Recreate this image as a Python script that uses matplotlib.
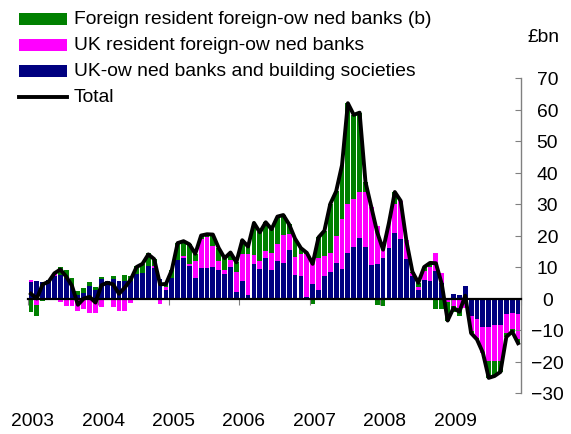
import numpy as np
import matplotlib
matplotlib.use("Agg")
import matplotlib.pyplot as plt
from matplotlib.patches import Rectangle
from matplotlib.lines import Line2D

plt.rcParams['font.family'] = ['Liberation Sans', 'DejaVu Sans']

# ---- data (monthly, Jan 2003 - Dec 2009), £bn ----
years = ['2003', '2004', '2005', '2006', '2007', '2008', '2009']

uk_owned = [5.3, 5.5, 5.3, 5.8, 7.0, 7.5, 6.5, 4.0, 1.0, 1.8, 4.0, 2.8,
            6.3, 5.5, 6.2, 5.4, 5.6, 5.6, 7.7, 8.0, 10.3, 9.8, 6.2, 2.7,
            6.5, 12.2, 13.0, 10.4, 6.4, 9.7, 9.7, 9.9, 9.0, 7.7, 10.1, 2.2,
            5.6, 1.2, 11.1, 9.3, 12.7, 9.0, 11.8, 11.3, 15.3, 7.4, 7.2, 0.5,
            4.6, 2.8, 7.0, 8.3, 11.3, 9.3, 14.4, 16.2, 19.2, 16.2, 10.7, 11.0,
            13.0, 16.0, 20.8, 19.0, 12.5, 7.0, 2.8, 5.8, 5.6, 8.8, 5.0, -0.5,
            1.4, 1.2, 4.0, -5.5, -6.6, -9.2, -9.2, -8.4, -8.4, -5.0, -4.5, -5.0]

uk_res_foreign = [0.5, -2.0, 0.0, -0.5, 0.8, -1.0, -2.3, -2.5, -4.1, -3.3, -4.7, -4.7,
                  -2.8, -0.5, -2.8, -4.1, -4.1, -1.3, 0.0, 0.0, -0.5, 0.4, -1.8, 0.8,
                  0.0, 0.0, 0.4, 0.5, 5.6, 9.3, 9.7, 6.9, 3.0, 1.3, 2.0, 6.1,
                  8.5, 13.0, 2.8, 2.7, 2.5, 5.3, 5.5, 8.9, 5.3, 5.7, 6.9, 13.5,
                  8.2, 10.0, 6.6, 6.3, 8.7, 16.0, 15.6, 15.4, 14.6, 17.6, 18.3, 12.0,
                  4.8, 8.0, 9.2, 12.0, 6.0, 1.0, 1.0, 3.0, 4.5, 5.8, 3.0, -0.5,
                  -2.5, -3.0, -3.1, -4.8, -6.0, -8.0, -10.7, -11.5, -11.4, -5.8, -5.2, -8.0]

foreign_res = [-4.3, -3.5, -0.8, 0.0, 0.0, 2.5, 2.5, 2.4, 1.3, 1.5, 1.1, 0.8,
               0.6, 0.0, 1.0, 0.0, 2.0, 1.7, 2.5, 3.0, 4.2, 2.3, 0.0, 1.0,
               2.5, 5.4, 4.8, 6.3, 2.2, 1.0, 1.0, 3.5, 4.0, 3.8, 2.5, 3.2,
               4.4, 2.3, 10.1, 9.0, 9.0, 7.7, 8.7, 6.3, 2.9, 5.9, 1.9, 0.5,
               -1.8, 6.6, 7.9, 15.4, 14.0, 17.0, 32.0, 26.7, 25.2, 3.2, 0.0, -2.0,
               -2.3, 0.0, 3.8, 0.0, -0.5, 0.5, 1.2, 1.2, 1.2, -3.4, -3.4, -6.0,
               -1.9, -2.4, 0.0, -0.7, -0.4, 0.0, -5.3, -4.7, -3.5, -1.4, -0.8, -1.2]

total = [1.5, 0.0, 4.5, 5.3, 8.0, 9.2, 7.0, 4.0, -2.0, 0.0, 0.5, -1.3,
         4.2, 5.0, 4.5, 1.5, 3.5, 6.0, 10.0, 11.0, 14.0, 12.5, 4.5, 4.6,
         9.0, 17.6, 18.2, 17.2, 14.2, 20.0, 20.4, 20.3, 16.0, 12.8, 14.6, 11.5,
         18.5, 16.5, 24.0, 21.0, 24.2, 22.0, 26.0, 26.5, 23.5, 19.0, 16.0, 14.5,
         11.0, 19.4, 21.5, 30.0, 34.0, 42.3, 62.0, 58.3, 59.0, 37.0, 29.0, 21.0,
         15.5, 24.0, 33.8, 31.0, 18.0, 8.5, 5.0, 10.0, 11.3, 11.2, 4.6, -7.0,
         -3.0, -4.2, 0.9, -11.0, -13.0, -17.2, -25.2, -24.6, -23.3, -12.2, -10.5, -14.2]

labels = ['Foreign resident foreign-ow ned banks (b)',
          'UK resident foreign-ow ned banks',
          'UK-ow ned banks and building societies',
          'Total']
colors = ['#008000', '#FF00FF', '#000080']

FS = 13.9

# ---- figure ----
W, H = 571, 435
fig = plt.figure(figsize=(W / 100, H / 100), dpi=100)
ax = fig.add_axes([28 / W, 41 / H, 493 / W, 315 / H])

x = np.arange(len(total))
series = [np.array(uk_owned), np.array(uk_res_foreign), np.array(foreign_res)]
series_colors = [colors[2], colors[1], colors[0]]
pos_base = np.zeros(len(x))
neg_base = np.zeros(len(x))
for vals, c in zip(series, series_colors):
    bottoms = np.where(vals >= 0, pos_base, neg_base)
    ax.bar(x, vals, bottom=bottoms, width=0.82, color=c, linewidth=0, zorder=1)
    pos_base = pos_base + np.where(vals > 0, vals, 0)
    neg_base = neg_base + np.where(vals < 0, vals, 0)

ax.plot(x, total, color='black', lw=2.8, zorder=4, solid_joinstyle='round')

ax.set_xlim(-0.5, len(x) - 0.5)
ax.set_ylim(-30, 70)

# spines
ax.spines['left'].set_visible(False)
ax.spines['top'].set_visible(False)
ax.spines['right'].set_color('#808080')
ax.spines['right'].set_linewidth(1.0)
ax.spines['bottom'].set_position(('data', 0))
ax.spines['bottom'].set_color('black')
ax.spines['bottom'].set_linewidth(1.6)
ax.spines['bottom'].set_zorder(3)

# y axis on the right
ax.yaxis.tick_right()
ax.set_yticks(np.arange(-30, 71, 10))
ax.tick_params(axis='y', direction='in', length=4, color='#808080',
               labelsize=FS, pad=19)
for t in ax.get_yticklabels():
    t.set_horizontalalignment('center')

# x axis ticks at year boundaries, labels at the bottom
ax.set_xticks(np.arange(-0.5, len(x), 12))
ax.tick_params(axis='x', direction='out', length=4, color='#808080',
               labelbottom=False)
for k, yr in enumerate(years):
    ax.text(12 * k + 0.3, -0.087, yr, transform=ax.get_xaxis_transform(),
            ha='center', va='center', fontsize=FS)

fig.text(543 / W, 1 - 37 / H, '£bn', ha='center', va='center', fontsize=FS)

# ---- legend drawn in pixel space ----
ov = fig.add_axes([0, 0, 1, 1], facecolor='none')
ov.set_xlim(0, W)
ov.set_ylim(H, 0)
ov.axis('off')
rows_y = [20, 46, 72, 98]
for i, (lab, yy) in enumerate(zip(labels, rows_y)):
    if i < 3:
        ov.add_patch(Rectangle((19, yy - 6), 48, 12, facecolor=colors[i],
                               edgecolor='none'))
    else:
        ov.add_line(Line2D([19, 67], [yy, yy], color='black', lw=2.8))
    ov.text(74, yy, lab, ha='left', va='center', fontsize=FS)

fig.savefig('out.png', dpi=100)
